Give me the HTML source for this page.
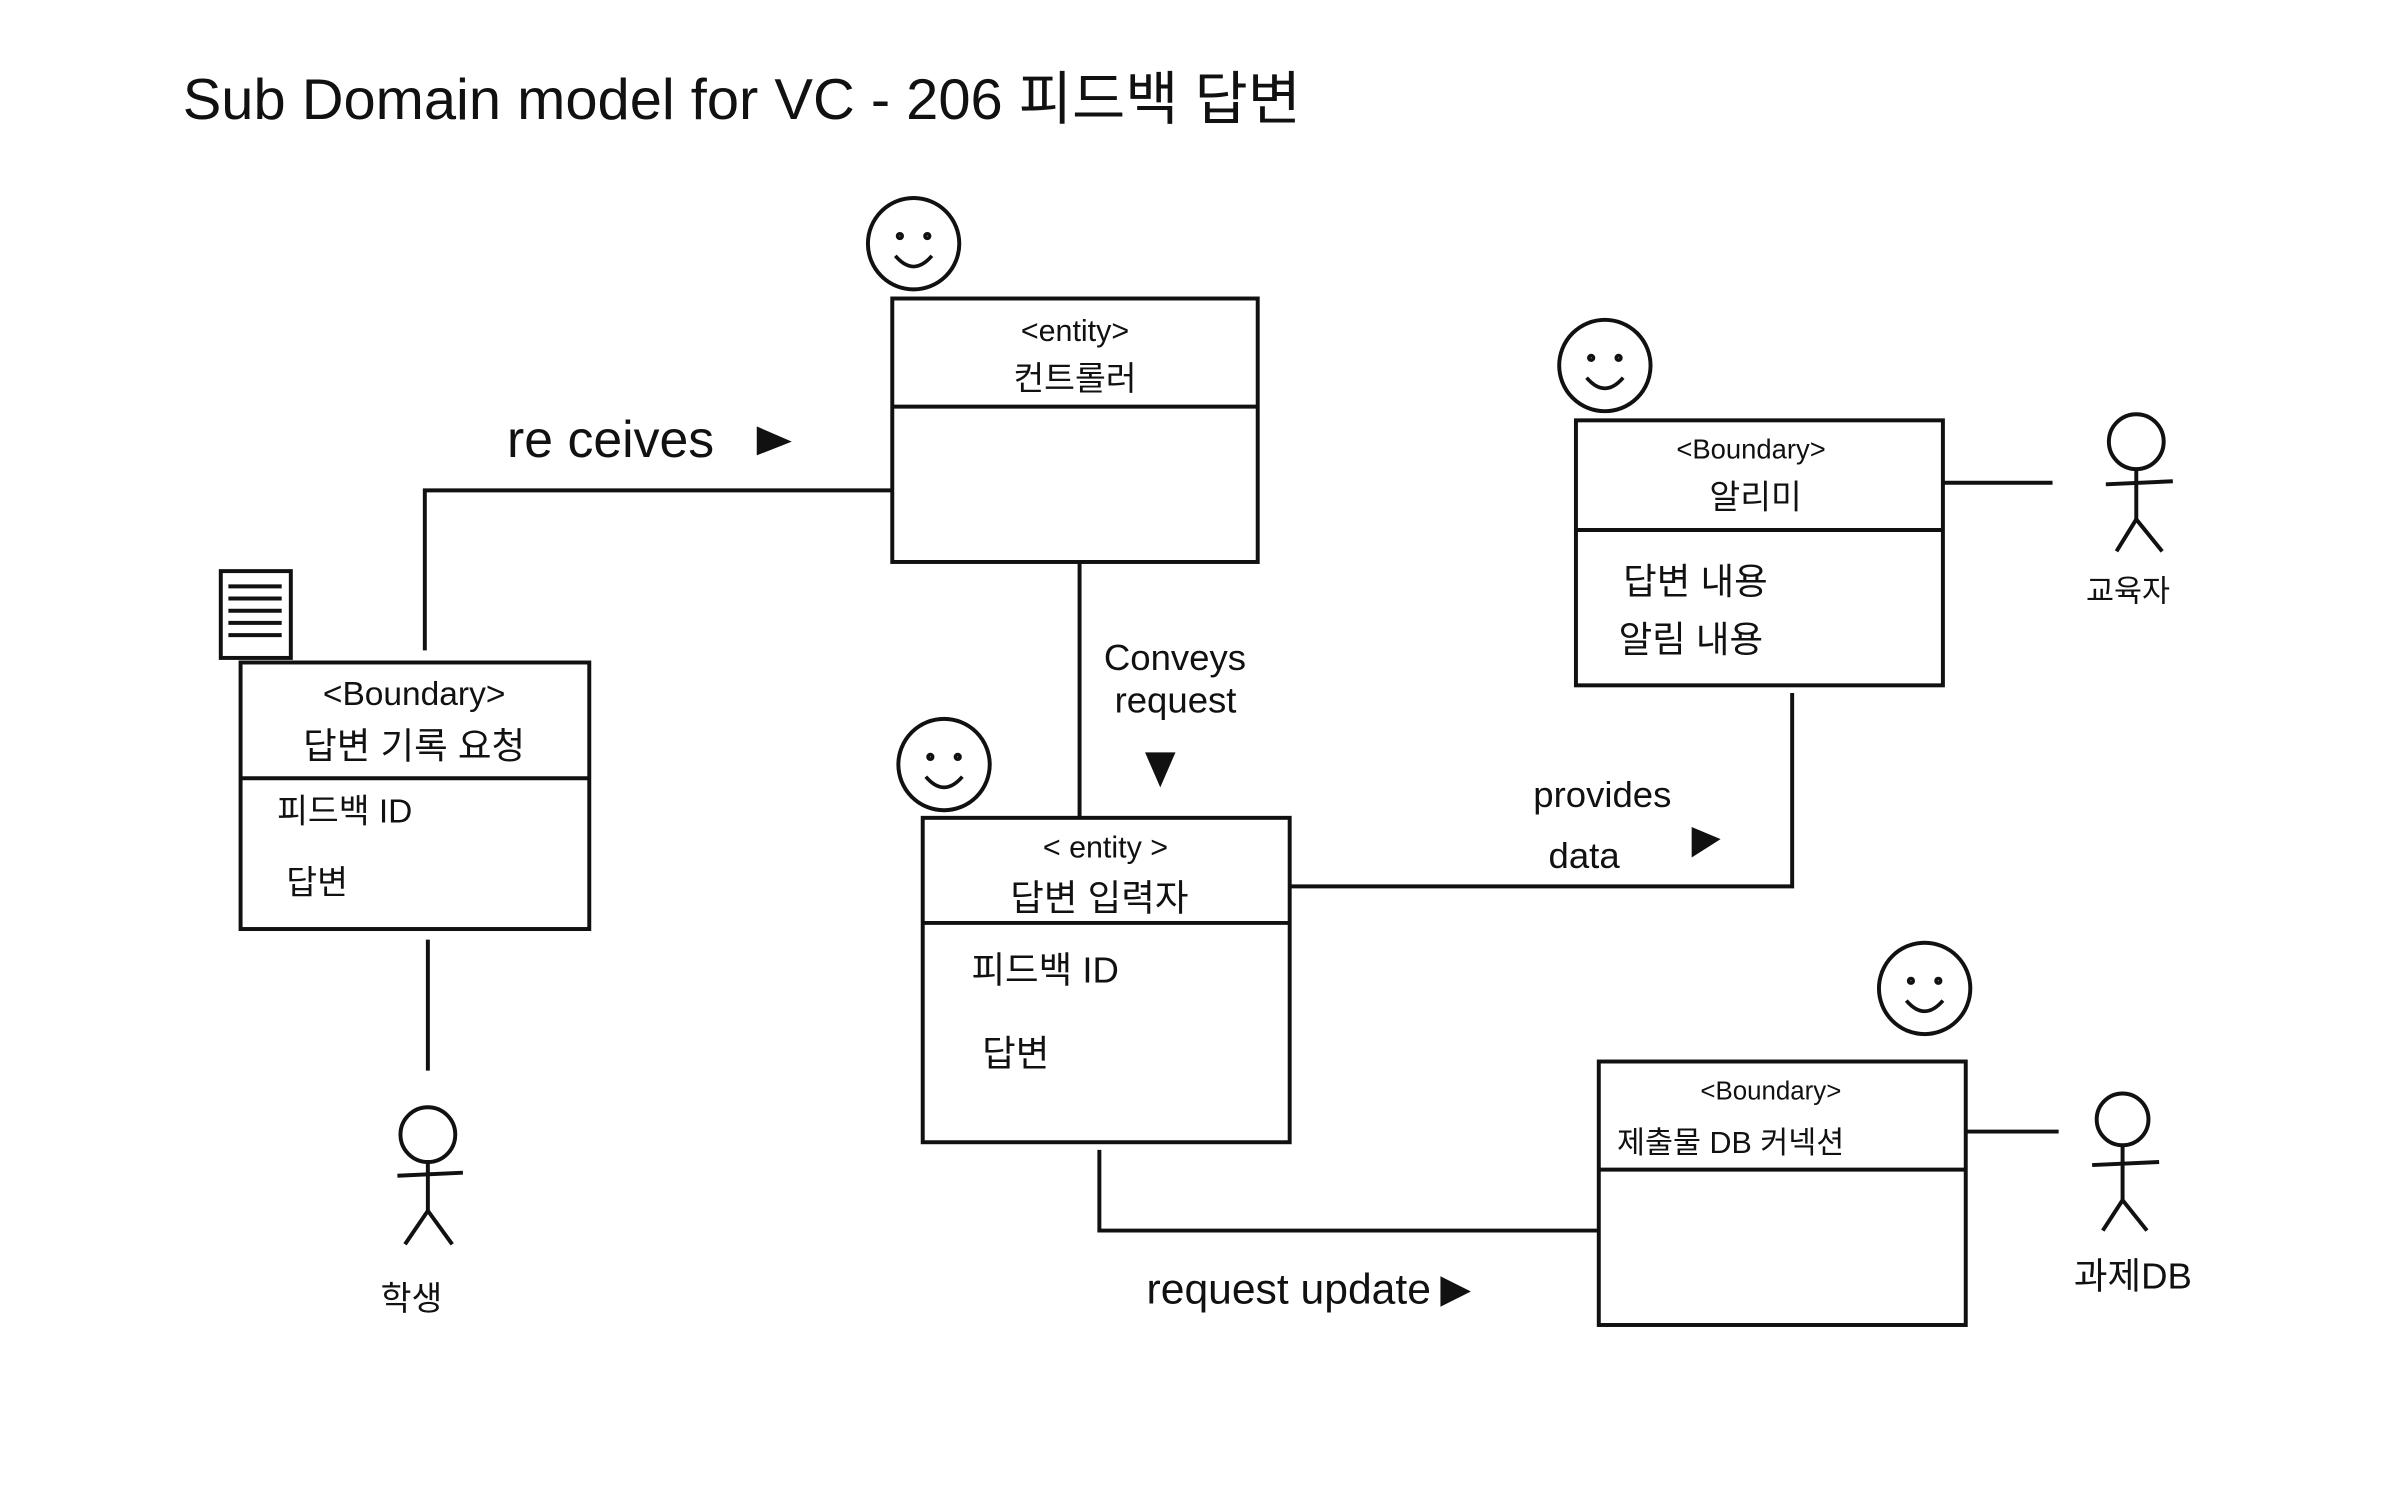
<!DOCTYPE html>
<html><head><meta charset="utf-8"><style>
html,body{margin:0;padding:0;background:#fff;}
svg{display:block;}
text{font-family:"Liberation Sans","Noto Sans CJK KR",sans-serif;fill:#111;}
</style></head><body>
<svg width="2386" height="1491" viewBox="0 0 1567 979" preserveAspectRatio="none" xmlns="http://www.w3.org/2000/svg">
<rect width="1567" height="979" fill="#fff"/>
<g stroke="#111" stroke-width="2.6" fill="none">
<rect x="586" y="196" width="240" height="173"/><line x1="586" y1="267" x2="826" y2="267"/>
<circle cx="600" cy="160" r="30"/>
<polyline points="586,322 279,322 279,427"/>
<rect x="145" y="375" width="46" height="57"/>
<line x1="150" y1="385" x2="185" y2="385"/><line x1="150" y1="393" x2="185" y2="393"/><line x1="150" y1="401" x2="185" y2="401"/><line x1="150" y1="409" x2="185" y2="409"/><line x1="150" y1="417" x2="185" y2="417"/>
<rect x="158" y="435" width="229" height="175"/><line x1="158" y1="511" x2="387" y2="511"/>
<line x1="281" y1="617" x2="281" y2="703"/>
<circle cx="281" cy="745" r="18"/><line x1="281" y1="763" x2="281" y2="795"/><line x1="261" y1="772" x2="304" y2="770"/><polyline points="266,817 281,795 297,817"/>
<line x1="709" y1="369" x2="709" y2="537"/>
<rect x="606" y="537" width="241" height="213"/><line x1="606" y1="606" x2="847" y2="606"/>
<circle cx="620" cy="502" r="30"/>
<polyline points="847,582 1177,582 1177,455"/>
<rect x="1035" y="276" width="241" height="174"/><line x1="1035" y1="348" x2="1276" y2="348"/>
<circle cx="1054" cy="240" r="30"/>
<line x1="1276" y1="317" x2="1348" y2="317"/>
<circle cx="1403" cy="290" r="18"/><line x1="1403" y1="308" x2="1403" y2="341"/><line x1="1383" y1="318" x2="1427" y2="316"/><polyline points="1390,362 1403,341 1420,362"/>
<polyline points="722,755 722,808 1050,808"/>
<rect x="1050" y="697" width="241" height="173"/><line x1="1050" y1="768" x2="1291" y2="768"/>
<circle cx="1264" cy="649" r="30"/>
<line x1="1291" y1="743" x2="1352" y2="743"/>
<circle cx="1394" cy="735" r="17"/><line x1="1394" y1="752" x2="1394" y2="788"/><line x1="1374" y1="765" x2="1418" y2="763"/><polyline points="1381,808 1394,788 1410,808"/>
</g>
<g stroke="#111" stroke-width="2.4" fill="none">
<path d="M588 168 Q600 182 612 168"/><circle cx="591" cy="155" r="1.5"/><circle cx="609" cy="155" r="1.5"/>
<path d="M608 510 Q620 524 632 510"/><circle cx="611" cy="497" r="1.5"/><circle cx="629" cy="497" r="1.5"/>
<path d="M1042 248 Q1054 262 1066 248"/><circle cx="1045" cy="235" r="1.5"/><circle cx="1063" cy="235" r="1.5"/>
<path d="M1252 657 Q1264 671 1276 657"/><circle cx="1255" cy="644" r="1.5"/><circle cx="1273" cy="644" r="1.5"/>
</g>
<polygon points="497,280 497,299 520,290" fill="#111"/>
<polygon points="752,494 772,494 762,517" fill="#111"/>
<polygon points="1111,543 1111,563 1130,551" fill="#111"/>
<text x="120" y="78" font-size="38">Sub  Domain  model  for  VC -  206  피드백 답변</text>
<text x="706" y="224" font-size="20" text-anchor="middle">&lt;entity&gt;</text>
<text x="706" y="256" font-size="22" text-anchor="middle">컨트롤러</text>
<text x="333" y="300" font-size="34">re ceives</text>
<text x="272" y="463" font-size="22" text-anchor="middle">&lt;Boundary&gt;</text>
<text x="272" y="498" font-size="24" text-anchor="middle">답변 기록 요청</text>
<text x="182" y="540" font-size="22">피드백 ID</text>
<text x="188" y="587" font-size="22">답변</text>
<text x="250" y="860" font-size="22">학생</text>
<text x="725" y="440" font-size="24">Conveys</text>
<text x="732" y="468" font-size="24">request</text>
<text x="726" y="563" font-size="20" text-anchor="middle">&lt; entity &gt;</text>
<text x="722" y="598" font-size="24" text-anchor="middle">답변 입력자</text>
<text x="638" y="645" font-size="24">피드백 ID</text>
<text x="645" y="700" font-size="24">답변</text>
<text x="1007" y="530" font-size="24">provides</text>
<text x="1017" y="570" font-size="24">data</text>
<text x="1150" y="301" font-size="18" text-anchor="middle">&lt;Boundary&gt;</text>
<text x="1153" y="334" font-size="22" text-anchor="middle">알리미</text>
<text x="1066" y="390" font-size="24">답변 내용</text>
<text x="1063" y="428" font-size="24">알림 내용</text>
<text x="1370" y="395" font-size="20">교육자</text>
<text x="753" y="856" font-size="28">request update</text>
<polygon points="946,838 946,858 966,848" fill="#111"/>
<text x="1163" y="722" font-size="17" text-anchor="middle">&lt;Boundary&gt;</text>
<text x="1062" y="757" font-size="20">제출물  DB 커넥션</text>
<text x="1362" y="846" font-size="24">과제DB</text>
</svg>
</body></html>
